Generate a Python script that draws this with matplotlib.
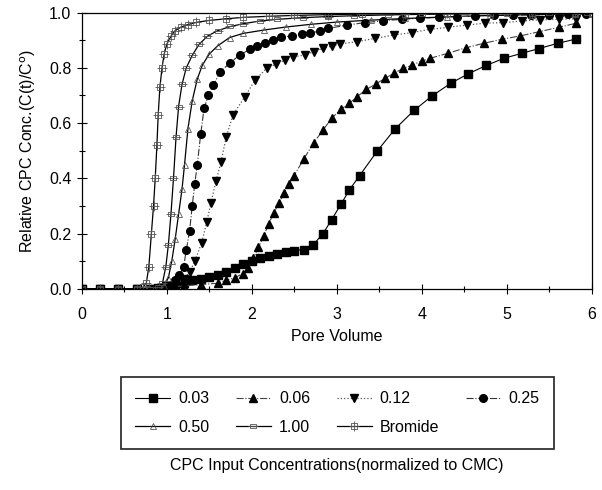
import numpy as np
import matplotlib
matplotlib.use("Agg")
import matplotlib.pyplot as plt
from matplotlib.path import Path
from matplotlib.ticker import MultipleLocator

plt.rcParams['font.family'] = ['Liberation Sans', 'DejaVu Sans']

# CPC 0.03 CMC
x003 = [0, 0.22, 0.43, 0.65, 0.8, 0.9, 1.0, 1.1, 1.2, 1.3, 1.4, 1.5, 1.6, 1.7, 1.8, 1.9, 2.0,
        2.1, 2.2, 2.3, 2.4, 2.5, 2.61, 2.72, 2.84, 2.94, 3.05, 3.15, 3.27, 3.48, 3.69, 3.91,
        4.12, 4.34, 4.55, 4.76, 4.97, 5.18, 5.38, 5.60, 5.82]
y003 = [0, 0, 0, 0, 0, 0.002, 0.008, 0.015, 0.022, 0.03, 0.036, 0.042, 0.05, 0.062, 0.075,
        0.09, 0.102, 0.112, 0.12, 0.127, 0.133, 0.138, 0.142, 0.158, 0.20, 0.25, 0.306, 0.358,
        0.41, 0.50, 0.58, 0.646, 0.698, 0.744, 0.779, 0.809, 0.835, 0.853, 0.87, 0.889, 0.905]

# CPC 0.06 CMC
x006 = [0, 0.22, 0.43, 0.65, 0.8, 1.0, 1.2, 1.4, 1.6, 1.7, 1.8, 1.9, 1.96, 2.02, 2.08, 2.14,
        2.2, 2.26, 2.32, 2.38, 2.44, 2.5, 2.61, 2.73, 2.84, 2.94, 3.05, 3.15, 3.24, 3.35, 3.46,
        3.57, 3.67, 3.78, 3.89, 4.0, 4.10, 4.31, 4.52, 4.73, 4.95, 5.16, 5.38, 5.61, 5.82]
y006 = [0, 0, 0, 0, 0, 0.005, 0.01, 0.015, 0.02, 0.03, 0.04, 0.055, 0.075, 0.11, 0.15, 0.19,
        0.235, 0.275, 0.31, 0.345, 0.38, 0.41, 0.469, 0.529, 0.575, 0.617, 0.65, 0.672, 0.696,
        0.722, 0.742, 0.762, 0.78, 0.798, 0.81, 0.825, 0.835, 0.853, 0.873, 0.889, 0.904,
        0.916, 0.931, 0.947, 0.962]

# CPC 0.12 CMC
x012 = [0, 0.22, 0.43, 0.65, 0.8, 0.9, 1.0, 1.1, 1.2, 1.27, 1.33, 1.41, 1.47, 1.52, 1.58,
        1.64, 1.70, 1.78, 1.92, 2.04, 2.18, 2.29, 2.39, 2.49, 2.63, 2.73, 2.84, 2.94, 3.04,
        3.24, 3.45, 3.67, 3.89, 4.10, 4.31, 4.53, 4.74, 4.96, 5.18, 5.39, 5.61, 5.82]
y012 = [0, 0, 0, 0, 0, 0, 0.005, 0.015, 0.035, 0.06, 0.1, 0.165, 0.24, 0.31, 0.39, 0.46,
        0.55, 0.63, 0.696, 0.756, 0.8, 0.814, 0.828, 0.84, 0.847, 0.859, 0.871, 0.879, 0.887,
        0.895, 0.907, 0.919, 0.928, 0.94, 0.947, 0.955, 0.962, 0.964, 0.97, 0.974, 0.976, 0.978]

# CPC 0.25 CMC
x025 = [0, 0.22, 0.43, 0.65, 0.8, 0.9, 1.0, 1.05, 1.1, 1.15, 1.2, 1.23, 1.27, 1.30, 1.33,
        1.36, 1.40, 1.44, 1.49, 1.55, 1.63, 1.74, 1.86, 1.98, 2.06, 2.16, 2.25, 2.35, 2.47,
        2.59, 2.69, 2.80, 2.90, 3.12, 3.33, 3.55, 3.77, 3.98, 4.2, 4.42, 4.63, 4.85, 5.07,
        5.28, 5.5, 5.72, 5.93]
y025 = [0, 0, 0, 0, 0, 0.002, 0.008, 0.015, 0.03, 0.05, 0.08, 0.14, 0.21, 0.3, 0.38, 0.45,
        0.56, 0.654, 0.70, 0.738, 0.786, 0.817, 0.847, 0.867, 0.88, 0.891, 0.901, 0.911,
        0.916, 0.922, 0.928, 0.932, 0.943, 0.955, 0.964, 0.971, 0.976, 0.98, 0.983, 0.986,
        0.988, 0.99, 0.991, 0.992, 0.993, 0.994, 0.995]

# CPC 0.50 CMC
x050 = [0, 0.22, 0.43, 0.65, 0.8, 0.9, 0.97, 1.02, 1.06, 1.10, 1.14, 1.18, 1.21, 1.25, 1.30,
        1.36, 1.42, 1.50, 1.6, 1.74, 1.9, 2.14, 2.4, 2.7, 3.0, 3.4, 3.8, 4.3, 4.8, 5.3, 5.8, 6.0]
y050 = [0, 0, 0, 0, 0, 0.003, 0.01, 0.04, 0.1, 0.18, 0.27, 0.36, 0.45, 0.58, 0.68, 0.76,
        0.81, 0.85, 0.88, 0.91, 0.925, 0.937, 0.948, 0.958, 0.966, 0.973, 0.979, 0.985, 0.99,
        0.993, 0.996, 0.997]

# CPC 1.00 CMC
x100 = [0, 0.22, 0.43, 0.65, 0.8, 0.9, 0.95, 0.99, 1.02, 1.05, 1.08, 1.11, 1.14, 1.18, 1.23,
        1.30, 1.38, 1.48, 1.6, 1.75, 1.9, 2.1, 2.3, 2.6, 2.9, 3.2, 3.6, 4.0, 4.5, 5.0, 5.5, 5.95]
y100 = [0, 0, 0, 0, 0, 0.005, 0.02, 0.08, 0.16, 0.27, 0.4, 0.55, 0.66, 0.74, 0.8, 0.845,
        0.885, 0.915, 0.935, 0.95, 0.96, 0.97, 0.976, 0.982, 0.986, 0.989, 0.992, 0.994,
        0.996, 0.997, 0.998, 0.999]

# Bromide tracer
xbr = [0, 0.22, 0.43, 0.65, 0.72, 0.76, 0.79, 0.82, 0.845, 0.865, 0.885, 0.9, 0.92, 0.945,
       0.97, 1.0, 1.05, 1.1, 1.17, 1.25, 1.35, 1.5, 1.7, 1.9, 2.2, 2.5, 2.9, 3.3, 3.8, 4.3,
       4.8, 5.3, 5.8, 6.0]
ybr = [0, 0, 0, 0, 0.005, 0.02, 0.08, 0.2, 0.3, 0.4, 0.52, 0.63, 0.73, 0.8, 0.85, 0.885,
       0.915, 0.935, 0.948, 0.957, 0.965, 0.972, 0.978, 0.983, 0.987, 0.99, 0.993, 0.995,
       0.997, 0.998, 0.999, 1.0, 1.0, 1.0]

# box markers: box with minus / box with plus
box_minus = Path([(-1, -0.5), (1, -0.5), (1, 0.5), (-1, 0.5), (-1, -0.5), (-1.6, 0), (1.6, 0)],
                 [Path.MOVETO, Path.LINETO, Path.LINETO, Path.LINETO, Path.CLOSEPOLY,
                  Path.MOVETO, Path.LINETO])
box_plus = Path([(-1, -1), (1, -1), (1, 1), (-1, 1), (-1, -1), (-1.6, 0), (1.6, 0), (0, -1.6), (0, 1.6)],
                [Path.MOVETO, Path.LINETO, Path.LINETO, Path.LINETO, Path.CLOSEPOLY,
                 Path.MOVETO, Path.LINETO, Path.MOVETO, Path.LINETO])

fig = plt.figure(figsize=(6.02, 4.9), dpi=100)
ax = fig.add_axes([0.1357, 0.4108, 0.8472, 0.5633])

h = {}
h['0.03'], = ax.plot(x003, y003, '-', color='black', lw=0.8, marker='s', ms=6, label='0.03')
h['0.06'], = ax.plot(x006, y006, '-.', color='#444444', lw=0.8, marker='^', ms=6, mfc='black', mec='black', label='0.06')
h['0.12'], = ax.plot(x012, y012, ':', color='#555555', lw=0.9, marker='v', ms=6, mfc='black', mec='black', label='0.12')
h['0.25'], = ax.plot(x025, y025, '-.', color='#333333', lw=0.8, marker='o', ms=5.5, mfc='black', mec='black', label='0.25')
h['0.50'], = ax.plot(x050, y050, '-', color='black', lw=0.9, marker='^', ms=4.5, mfc='none', mec='#555555', mew=0.6, label='0.50')
h['1.00'], = ax.plot(x100, y100, '-', color='black', lw=0.9, marker=box_minus, ms=7, mfc='none', mec='#555555', mew=0.6, label='1.00')
h['Bromide'], = ax.plot(xbr, ybr, '-', color='black', lw=0.9, marker=box_plus, ms=7, mfc='none', mec='#555555', mew=0.6, label='Bromide')

ax.set_xlim(0, 6)
ax.set_ylim(0, 1.0)
ax.xaxis.set_major_locator(MultipleLocator(1))
ax.xaxis.set_minor_locator(MultipleLocator(0.5))
ax.yaxis.set_major_locator(MultipleLocator(0.2))
ax.yaxis.set_minor_locator(MultipleLocator(0.1))
ax.yaxis.set_major_formatter(matplotlib.ticker.FormatStrFormatter('%.1f'))
ax.tick_params(which='major', direction='inout', length=7, width=0.8, labelsize=11.5)
ax.tick_params(axis='x', which='major', pad=9.5)
ax.tick_params(axis='y', which='major', pad=4)
ax.tick_params(which='minor', direction='inout', length=5, width=0.8)
for s in ax.spines.values():
    s.set_linewidth(0.9)

ax.set_xlabel('Pore Volume', fontsize=11.5, labelpad=5)
ax.set_ylabel('Relative CPC Conc.(C(t)/C$^{\\mathrm{o}}$)', fontsize=11.5, labelpad=8)

# legend filled column by column, so interleave to get rows
order = ['0.03', '0.50', '0.06', '1.00', '0.12', 'Bromide', '0.25']
leg = fig.legend([h[k] for k in order], order, loc='center', bbox_to_anchor=(0.5606, 0.157),
                 ncol=4, fontsize=11.5, frameon=True, fancybox=False, handlelength=2.2,
                 columnspacing=1.65, borderpad=0.9, labelspacing=0.85, handletextpad=0.5)
leg.get_frame().set_edgecolor('black')
leg.get_frame().set_linewidth(1.3)

fig.text(0.56, 0.051, 'CPC Input Concentrations(normalized to CMC)', ha='center', va='center', fontsize=11.5)

fig.savefig('out.png', dpi=100)
